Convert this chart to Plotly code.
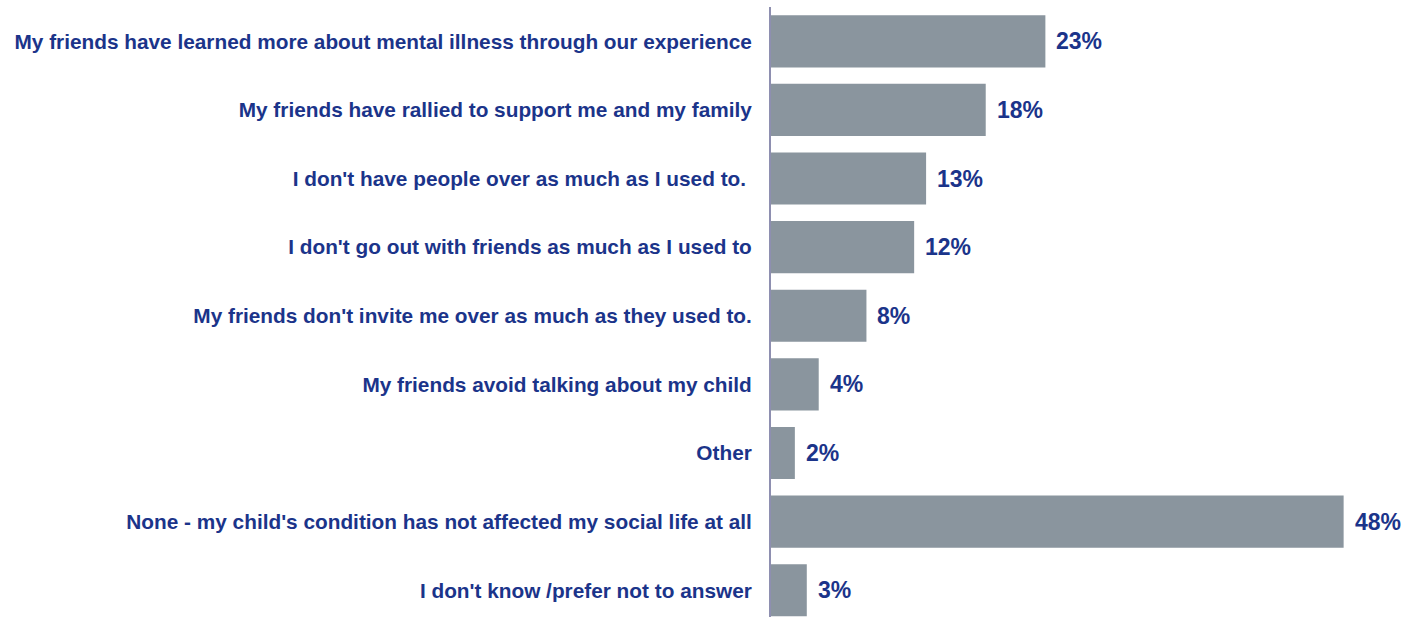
import plotly.graph_objects as go

categories = [
    "My friends have learned more about mental illness through our experience",
    "My friends have rallied to support me and my family",
    "I don't have people over as much as I used to. ",
    "I don't go out with friends as much as I used to",
    "My friends don't invite me over as much as they used to.",
    "My friends avoid talking about my child",
    "Other",
    "None - my child's condition has not affected my social life at all",
    "I don't know /prefer not to answer",
]
values = [23, 18, 13, 12, 8, 4, 2, 48, 3]
value_labels = ["23%", "18%", "13%", "12%", "8%", "4%", "2%", "48%", "3%"]

NAVY = "#1B348A"
BAR = "#8A959E"

fig = go.Figure(
    go.Bar(
        x=values,
        y=list(range(len(categories))),
        orientation="h",
        marker=dict(color=BAR, line=dict(width=0)),
        width=0.76,
        hoverinfo="skip",
    )
)

for i, (v, lab) in enumerate(zip(values, value_labels)):
    fig.add_annotation(
        x=v, y=i, text=f"<b>{lab}</b>", showarrow=False,
        xanchor="left", yanchor="middle", xshift=9,
        font=dict(family="Liberation Sans, Arial, sans-serif", size=23, color=NAVY),
    )

fig.update_layout(
    width=1409, height=617,
    margin=dict(l=771, r=0, t=7, b=0),
    paper_bgcolor="white", plot_bgcolor="white",
    showlegend=False,
    xaxis=dict(range=[0, 53.48], visible=False, fixedrange=True),
    yaxis=dict(
        range=[8.39, -0.5],
        tickmode="array",
        tickvals=list(range(len(categories))),
        ticktext=[f"<b>{c}</b>" for c in categories],
        tickfont=dict(family="Liberation Sans, Arial, sans-serif", size=20.8, color=NAVY),
        showline=True, linecolor="#8E8FB0", linewidth=2,
        showgrid=False, zeroline=False, ticks="",
        ticklabelstandoff=13,
    ),
)

fig.write_html("out.html")
